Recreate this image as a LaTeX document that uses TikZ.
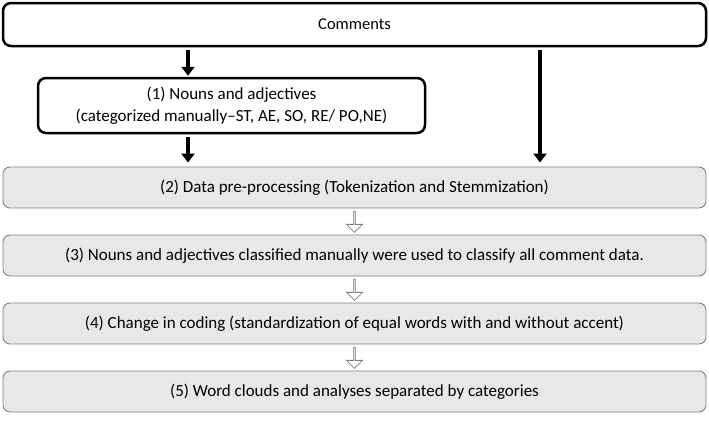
\documentclass[tikz,border=0pt]{standalone}
\usepackage{fontspec}
\setmainfont{Carlito}
\usetikzlibrary{arrows.meta, positioning, calc, shapes.arrows}

\begin{document}
\begin{tikzpicture}[x=1pt, y=-1pt,
    every node/.style={font=\fontsize{17}{22}\selectfont, inner sep=0pt, align=center},
    blackbox/.style={draw, rounded corners=8pt, line width=2.5pt},
    stepbox/.style={draw=gray, fill=gray!18, rounded corners=7pt, line width=0.9pt,
        minimum width=703pt, minimum height=41pt},
    bigarrow/.style={line width=4.5pt, -{Triangle[width=13pt, length=9pt]}},
    hollowarrow/.style={single arrow, draw=gray, fill=white, line width=0.8pt, rotate=-90,
        minimum height=21pt, minimum width=16pt, single arrow head extend=4pt}]
    \useasboundingbox (0,0) rectangle (709,434);
    \node[blackbox, minimum width=703pt, minimum height=43pt, font=\fontsize{16.5}{20}\selectfont]
        (comments) at (354.5,24.5) {Comments};
    \node[blackbox, minimum width=387pt, minimum height=55pt] (nouns) at (231.5,105.5)
        {(1) Nouns and adjectives\\(categorized manually--ST, AE, SO, RE/ PO,NE)};
    \node[stepbox] (prep) at (354.5,187.5) {(2) Data pre-processing (Tokenization and Stemmization)};
    \node[stepbox] (classify) at (354.5,255.5) {(3) Nouns and adjectives classified manually were used to classify all comment data.};
    \node[stepbox] (coding) at (354.5,323.5) {(4) Change in coding (standardization of equal words with and without accent)};
    \node[stepbox] (clouds) at (354.5,391.5) {(5) Word clouds and analyses separated by categories};
    % black arrows
    \coordinate (left) at (188,0);
    \coordinate (right) at (540,0);
    \draw[bigarrow, shorten <=3pt, shorten >=1pt] (comments.south -| left) -- (nouns.north -| left);
    \draw[bigarrow, shorten <=3pt, shorten >=4pt] (nouns.south -| left) -- (prep.north -| left);
    \draw[bigarrow, shorten <=3pt, shorten >=4pt] (comments.south -| right) -- (prep.north -| right);
    % hollow arrows
    \node[hollowarrow] (a1) at ($(prep.south)!0.5!(classify.north)$) {};
    \node[hollowarrow] (a2) at ($(classify.south)!0.5!(coding.north)$) {};
    \node[hollowarrow] (a3) at ($(coding.south)!0.5!(clouds.north)$) {};
\end{tikzpicture}
\end{document}
